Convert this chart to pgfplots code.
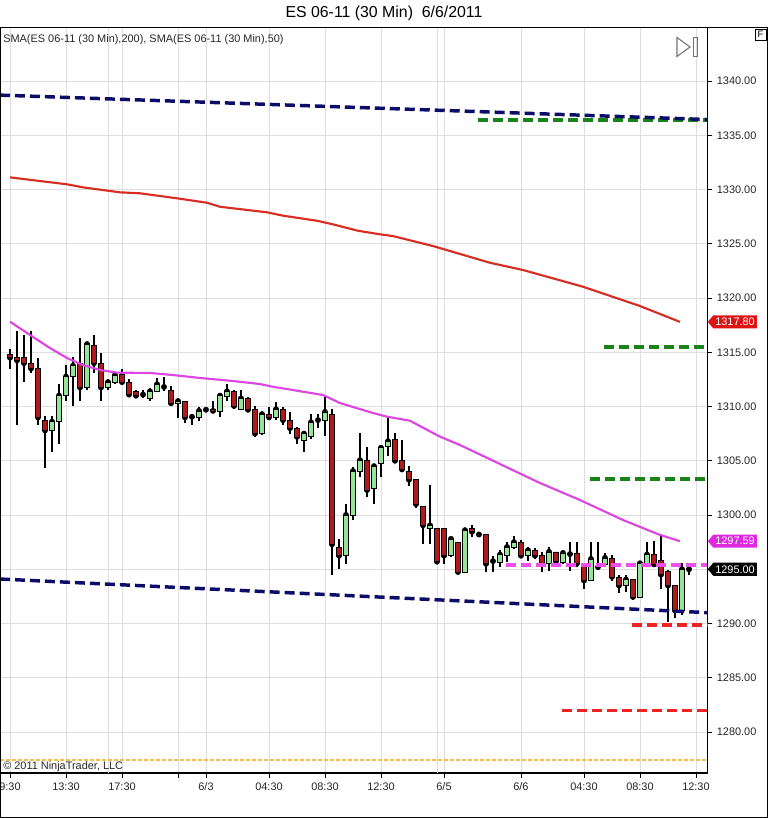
\documentclass[border=0pt]{standalone}
\usepackage{fontspec}
\setmainfont{Liberation Sans}
\usepackage{pgfplots}
\usepackage{pgfplotstable}
\pgfplotsset{compat=1.18}
\usetikzlibrary{shapes.symbols}

\definecolor{barred}{RGB}{178,26,26}
\definecolor{bargreen}{RGB}{150,228,150}
\definecolor{navyline}{RGB}{12,12,105}
\definecolor{greenline}{RGB}{25,130,25}
\definecolor{smared}{RGB}{215,45,35}
\definecolor{smamag}{RGB}{222,70,225}
\definecolor{dashmag}{RGB}{235,80,235}
\definecolor{dashred}{RGB}{240,35,35}
\definecolor{dotorange}{RGB}{245,190,70}
\definecolor{tagred}{RGB}{220,20,20}
\definecolor{tagmag}{RGB}{225,40,225}

\newcommand\smallfont{\fontsize{8.2}{9.8}\selectfont}

% 30 min bars: index, open, high, low, close
\pgfplotstableread{
i o h l c
1 1314.8 1315.3 1313.5 1314.5
2 1314.5 1317.0 1308.3 1314.25
3 1314.5 1316.6 1312.25 1314.0
4 1314.0 1317.0 1313.1 1313.5
5 1313.5 1314.5 1308.3 1309.0
6 1308.75 1309.1 1304.3 1307.8
7 1307.8 1309.1 1305.8 1308.6
8 1308.6 1312.1 1306.5 1311.0
9 1311.0 1313.8 1310.5 1312.75
10 1312.75 1314.55 1310.05 1313.75
11 1314.0 1316.3 1310.5 1311.75
12 1311.75 1315.75 1311.5 1315.75
13 1315.6 1316.6 1313.1 1314.0
14 1314.0 1314.9 1310.5 1311.75
15 1311.75 1312.5 1311.5 1312.25
16 1312.25 1313.2 1312.1 1312.9
17 1313.0 1313.5 1312.1 1312.25
18 1312.25 1312.5 1311.1 1311.1
19 1311.4 1311.5 1310.85 1311.0
20 1311.1 1311.5 1310.75 1311.1
21 1310.75 1311.7 1310.5 1311.4
22 1311.4 1312.6 1311.3 1312.05
23 1311.8 1312.75 1311.4 1311.8
24 1311.5 1311.85 1310.05 1310.3
25 1310.3 1310.75 1308.9 1310.5
26 1310.5 1310.5 1308.5 1309.0
27 1309.05 1309.3 1308.3 1309.05
28 1309.0 1310.0 1308.7 1309.6
29 1309.7 1309.9 1309.5 1309.7
30 1309.75 1310.5 1309.5 1309.6
31 1309.6 1311.0 1309.0 1311.0
32 1310.95 1312.1 1310.5 1311.4
33 1311.4 1311.5 1309.8 1310.05
34 1309.75 1311.5 1309.7 1310.75
35 1310.75 1310.9 1309.6 1309.7
36 1309.75 1310.05 1307.2 1307.5
37 1307.5 1309.5 1307.4 1309.3
38 1309.3 1310.0 1308.75 1309.0
39 1309.0 1310.45 1308.75 1309.75
40 1309.75 1310.0 1308.25 1308.75
41 1308.75 1309.5 1307.5 1308.0
42 1308.0 1308.1 1306.5 1307.2
43 1306.9 1307.7 1305.8 1307.5
44 1307.25 1309.3 1307.05 1308.55
45 1308.75 1309.3 1308.0 1308.75
46 1308.75 1310.9 1307.25 1309.5
47 1309.3 1309.75 1294.5 1297.3
48 1297.05 1297.75 1295.0 1296.25
49 1296.25 1301.05 1295.5 1300.0
50 1300.0 1304.4 1299.5 1304.05
51 1304.05 1307.6 1303.5 1305.05
52 1305.05 1306.3 1301.65 1302.3
53 1302.5 1304.5 1301.0 1304.5
54 1304.75 1306.45 1303.5 1306.2
55 1306.3 1308.9 1305.4 1306.8
56 1306.95 1307.6 1304.75 1305.0
57 1305.05 1306.9 1303.95 1304.2
58 1304.05 1304.5 1302.65 1303.25
59 1303.3 1303.3 1300.6 1301.0
60 1300.8 1300.8 1297.3 1299.05
61 1298.75 1302.75 1297.3 1299.05
62 1298.8 1298.8 1295.55 1295.7
63 1298.75 1298.75 1295.5 1296.25
64 1296.25 1298.0 1296.1 1297.8
65 1297.45 1297.45 1294.65 1294.75
66 1294.75 1298.75 1294.65 1298.6
67 1298.75 1299.05 1298.0 1298.45
68 1298.2 1298.45 1298.0 1298.2
69 1298.2 1298.2 1294.75 1295.5
70 1295.75 1296.25 1294.75 1295.75
71 1295.65 1296.75 1295.25 1296.35
72 1296.25 1297.5 1295.65 1297.05
73 1297.0 1298.05 1296.9 1297.5
74 1297.5 1297.65 1296.25 1296.25
75 1296.25 1297.05 1295.8 1296.75
76 1296.75 1296.95 1295.95 1296.25
77 1296.25 1296.6 1294.75 1295.5
78 1295.5 1297.05 1294.8 1296.6
79 1296.6 1296.6 1295.5 1295.75
80 1295.65 1296.6 1295.5 1296.5
81 1296.45 1297.5 1294.8 1296.4
82 1296.5 1297.5 1295.2 1295.55
83 1295.35 1295.5 1293.2 1293.95
84 1293.95 1297.5 1293.95 1295.95
85 1295.2 1297.5 1294.9 1295.2
86 1295.45 1296.5 1295.2 1296.05
87 1296.0 1296.3 1293.95 1294.3
88 1294.3 1294.45 1292.8 1293.5
89 1293.5 1294.45 1292.9 1294.05
90 1294.05 1294.05 1292.2 1292.45
91 1292.45 1295.7 1292.45 1295.55
92 1295.55 1297.5 1295.25 1296.35
93 1296.35 1297.6 1295.35 1295.45
94 1295.8 1298.25 1293.2 1294.5
95 1294.8 1294.9 1290.1 1293.5
96 1293.5 1293.5 1290.5 1291.2
97 1291.2 1295.55 1290.8 1295.0
98 1295.0 1295.3 1294.5 1295.0
}\candles

\pgfplotsset{
  chartbase/.style={
    at={(0pt,33.75pt)}, anchor=south west,
    scale only axis, width=530.6pt, height=559.1pt,
    xmin=-0.4286, xmax=100.643, ymin=1276.22, ymax=1344.93,
  },
  bare/.style={chartbase, axis lines=none, ticks=none},
}
\tikzset{
  pricetag/.style={signal, signal to=west, signal pointer angle=100, text=white,
    font=\smallfont, inner xsep=1.5pt, inner ysep=2pt, anchor=west},
}

\begin{document}
\begin{tikzpicture}[x=0.75pt,y=0.75pt]
\useasboundingbox (0,0) rectangle (768,818);

% price panel: grid, axes and wicks
\begin{axis}[chartbase,
  axis line style={black, line width=0.8pt},
  xtick={1,9,17,25,29,38,46,54,63,74,83,91,99},
  xticklabels={9:30,13:30,17:30,,6/3,04:30,08:30,12:30,6/5,6/6,04:30,08:30,12:30},
  xtick pos=bottom, ytick pos=right, yticklabel pos=right,
  ytick={1280,1285,...,1340},
  yticklabels={1280.00,1285.00,1290.00,,1300.00,1305.00,1310.00,1315.00,1320.00,1325.00,1330.00,1335.00,1340.00},
  tick align=outside, major tick length=3.5pt,
  tick style={black, line width=0.6pt},
  grid=major, major grid style={draw=black!13, line width=0.6pt},
  ticklabel style={font=\smallfont, text=black!85},
  extra x ticks={15,62}, extra x tick labels={},
  extra x tick style={grid style={draw=black!40, line width=0.6pt}, major tick length=0pt},
]
\addplot[only marks, mark=none, error bars/.cd, y dir=both, y explicit,
  error mark=none, error bar style={black, line width=0.8pt}]
  table[x=i, y=c, y error plus expr=\thisrow{h}-\thisrow{c},
        y error minus expr=\thisrow{c}-\thisrow{l}] {\candles};
\end{axis}

% candle bodies
\begin{axis}[bare, ybar stacked, bar width=3.7pt]
\addplot[draw=none, fill=none] table[x=i, y expr={min(\thisrow{o},\thisrow{c})}] {\candles};
\addplot[draw=black, fill=barred, line width=0.5pt] table[x=i, y expr={max(\thisrow{o}-\thisrow{c},0)}] {\candles};
\addplot[draw=black, fill=bargreen, line width=0.5pt] table[x=i, y expr={max(\thisrow{c}-\thisrow{o},0)}] {\candles};
\end{axis}

% moving averages, drawn levels, price tags
\begin{axis}[bare, clip=false]
\addplot[smared, line width=1.6pt] coordinates {
  (1,1331.12) (9.14,1330.48) (11.43,1330.20) (16.71,1329.74) (19.57,1329.65)
  (24.86,1329.19) (29.14,1328.78) (31,1328.41) (37.71,1327.90) (40,1327.59)
  (44.86,1327.12) (47.14,1326.79) (50.71,1326.20) (53.86,1325.87) (55.71,1325.71)
  (61.43,1324.79) (69.57,1323.25) (74.29,1322.58) (82.86,1321.04) (91,1319.26)
  (96.71,1317.80)};
\addplot[smamag, line width=1.6pt] coordinates {
  (1,1317.82) (4.29,1316.41) (6.71,1315.39) (9.14,1314.47) (11.43,1313.82)
  (13.86,1313.36) (16.29,1313.12) (21,1313.09) (24.29,1312.90) (28.14,1312.63)
  (32.86,1312.35) (36.71,1312.07) (38.57,1311.82) (45.71,1311.06) (48.14,1310.32)
  (52.86,1309.40) (54.86,1309.06) (58.14,1308.69) (62.43,1307.22) (65.29,1306.45)
  (71,1304.70) (76.71,1302.95) (82.43,1301.38) (88.57,1299.54) (93.86,1298.16)
  (96.71,1297.59)};
\addplot[greenline, line width=2.6pt, dash pattern=on 7.5pt off 3.75pt] coordinates {(67.86,1336.4) (100.643,1336.4)};
\addplot[navyline, line width=2.6pt, dash pattern=on 7.5pt off 3.75pt] coordinates {(-0.4286,1338.7) (100.643,1336.45)};
\addplot[greenline, line width=2.6pt, dash pattern=on 7.5pt off 3.75pt] coordinates {(85.86,1315.48) (100.643,1315.48)};
\addplot[greenline, line width=2.6pt, dash pattern=on 7.5pt off 3.75pt] coordinates {(83.86,1303.32) (100.643,1303.32)};
\addplot[dashmag, line width=2.6pt, dash pattern=on 7.5pt off 3.75pt] coordinates {(71.86,1295.4) (100.643,1295.4)};
\addplot[navyline, line width=2.6pt, dash pattern=on 7.5pt off 3.75pt] coordinates {(-0.4286,1294.1) (100.643,1291.0)};
\addplot[dashred, line width=2.6pt, dash pattern=on 7.5pt off 3.75pt] coordinates {(89.86,1289.86) (100.643,1289.86)};
\addplot[dashred, line width=2.6pt, dash pattern=on 7.5pt off 3.75pt] coordinates {(79.86,1282.0) (100.643,1282.0)};
\addplot[dotorange, line width=1.1pt, dash pattern=on 3pt off 1.5pt] coordinates {(-0.4286,1277.42) (100.643,1277.42)};

\node[pricetag, fill=tagred] at (axis cs:100.643,1317.80) {1317.80};
\node[pricetag, fill=tagmag] at (axis cs:100.643,1297.59) {1297.59};
\node[pricetag, fill=black] at (axis cs:100.643,1295.00) {1295.00};
\end{axis}

% frame, title and chart furniture
\draw[black, line width=0.8pt] (0.5,790.5) rectangle (767.5,0.5);
\node[font=\fontsize{11.9}{14}\selectfont] at (384,805) {ES 06-11 (30 Min)\ \ 6/6/2011};
\node[anchor=west, font=\smallfont, text=black!85, inner sep=0pt] at (3,778) {SMA(ES 06-11 (30 Min),200), SMA(ES 06-11 (30 Min),50)};
\node[anchor=west, font=\smallfont, text=black!85, inner sep=0pt] at (3,51) {© 2011 NinjaTrader, LLC};
\draw[black!55, line width=0.8pt] (677,780.5) -- (690,771) -- (677,761.5) -- cycle;
\draw[black!55, line width=0.8pt] (693.3,780.5) rectangle (697.3,761.5);
\draw[black, line width=0.6pt] (755,789) rectangle (766,778);
\node[font=\fontsize{7}{8}\selectfont, inner sep=0pt] at (760.5,783.5) {F};
\end{tikzpicture}
\end{document}
